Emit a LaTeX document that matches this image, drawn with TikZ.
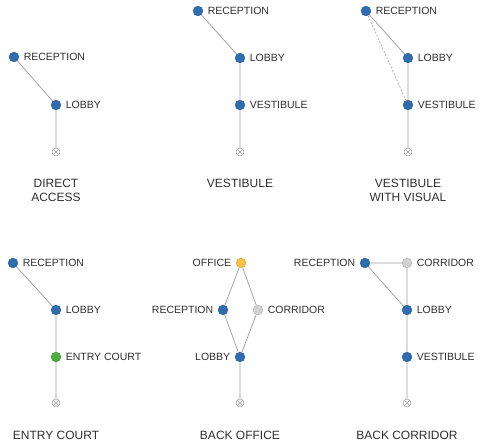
\documentclass[tikz,border=0pt]{standalone}
\usepackage{fontspec}
\setmainfont{Liberation Sans}
\usetikzlibrary{positioning}
\definecolor{dotBlue}{HTML}{2F6CB1}
\definecolor{dotGreen}{HTML}{4DAE3E}
\definecolor{dotYellow}{HTML}{F5C443}
\definecolor{dotGray}{HTML}{D2D2D2}
\definecolor{linkGray}{HTML}{A0A0A0}
\definecolor{textGray}{HTML}{2E2E2E}
\tikzset{
spaceDot/.style={circle, inner sep=0pt, minimum size=9.8pt, fill=#1, draw=#1!80!black, line width=0.4pt},
exitMark/.style={circle, inner sep=0pt, minimum size=8pt, fill=white, draw=linkGray, line width=0.5pt,
    path picture={\draw[linkGray, line width=0.5pt] (path picture bounding box.south west) -- (path picture bounding box.north east)
        (path picture bounding box.north west) -- (path picture bounding box.south east);}},
roomLbl/.style={font=\fontsize{10.5}{12}\selectfont, text=textGray, inner sep=1pt},
titleLbl/.style={font=\fontsize{12}{14}\selectfont, text=textGray, align=center},
link/.style={draw=linkGray, line width=0.75pt},
visualLink/.style={link, dashed, dash pattern=on 2pt off 1.5pt, line width=0.6pt}
}

\begin{document}
\begin{tikzpicture}[x=1pt, y=-1pt, label distance=3.5pt]
    \useasboundingbox (0,0) rectangle (480,444);
    % direct access
    \node[spaceDot=dotBlue, label={[roomLbl]right:RECEPTION}] (rec1) at (14,57) {};
    \node[spaceDot=dotBlue, label={[roomLbl]right:LOBBY}] (lob1) at (56,105) {};
    \node[exitMark] (ex1) at (56,152) {};
    \node[titleLbl] (title1) at (56,190) {DIRECT\\ACCESS};
    \draw[link] (rec1) -- (lob1) (lob1) -- (ex1);
    % vestibule
    \node[spaceDot=dotBlue, label={[roomLbl]right:RECEPTION}] (rec2) at (198,11) {};
    \node[spaceDot=dotBlue, label={[roomLbl]right:LOBBY}] (lob2) at (240,58) {};
    \node[spaceDot=dotBlue, label={[roomLbl]right:VESTIBULE}] (ves2) at (240,105) {};
    \node[exitMark] (ex2) at (240,152) {};
    \node[titleLbl] (title2) at (240,183) {VESTIBULE};
    \draw[link] (rec2) -- (lob2) (lob2) -- (ves2) (ves2) -- (ex2);
    % vestibule with visual
    \node[spaceDot=dotBlue, label={[roomLbl]right:RECEPTION}] (rec3) at (366,11) {};
    \node[spaceDot=dotBlue, label={[roomLbl]right:LOBBY}] (lob3) at (408,58) {};
    \node[spaceDot=dotBlue, label={[roomLbl]right:VESTIBULE}] (ves3) at (408,105) {};
    \node[exitMark] (ex3) at (408,152) {};
    \node[titleLbl] (title3) at (408,190) {VESTIBULE\\WITH VISUAL};
    \draw[link] (rec3) -- (lob3) (lob3) -- (ves3) (ves3) -- (ex3);
    \draw[visualLink] (rec3) -- (ves3);
    % entry court
    \node[spaceDot=dotBlue, label={[roomLbl]right:RECEPTION}] (rec4) at (13,263) {};
    \node[spaceDot=dotBlue, label={[roomLbl]right:LOBBY}] (lob4) at (56,310) {};
    \node[spaceDot=dotGreen, label={[roomLbl]right:ENTRY COURT}] (ent4) at (56,357) {};
    \node[exitMark] (ex4) at (56,403) {};
    \node[titleLbl] (title4) at (56,435) {ENTRY COURT};
    \draw[link] (rec4) -- (lob4) (lob4) -- (ent4) (ent4) -- (ex4);
    % back office
    \node[spaceDot=dotYellow, label={[roomLbl]left:OFFICE}] (off5) at (241,263) {};
    \node[spaceDot=dotBlue, label={[roomLbl]left:RECEPTION}] (rec5) at (223,310) {};
    \node[spaceDot=dotGray, label={[roomLbl]right:CORRIDOR}] (cor5) at (258,310) {};
    \node[spaceDot=dotBlue, label={[roomLbl]left:LOBBY}] (lob5) at (240,357) {};
    \node[exitMark] (ex5) at (240,403) {};
    \node[titleLbl] (title5) at (240,435) {BACK OFFICE};
    \draw[link] (off5) -- (rec5) (off5) -- (cor5) (rec5) -- (lob5) (cor5) -- (lob5) (lob5) -- (ex5);
    % back corridor
    \node[spaceDot=dotBlue, label={[roomLbl]left:RECEPTION}] (rec6) at (365,263) {};
    \node[spaceDot=dotGray, label={[roomLbl]right:CORRIDOR}] (cor6) at (407,263) {};
    \node[spaceDot=dotBlue, label={[roomLbl]right:LOBBY}] (lob6) at (407,310) {};
    \node[spaceDot=dotBlue, label={[roomLbl]right:VESTIBULE}] (ves6) at (407,357) {};
    \node[exitMark] (ex6) at (407,403) {};
    \node[titleLbl] (title6) at (407,435) {BACK CORRIDOR};
    \draw[link] (rec6) -- (cor6) (rec6) -- (lob6) (cor6) -- (lob6) (lob6) -- (ves6) (ves6) -- (ex6);
\end{tikzpicture}
\end{document}
